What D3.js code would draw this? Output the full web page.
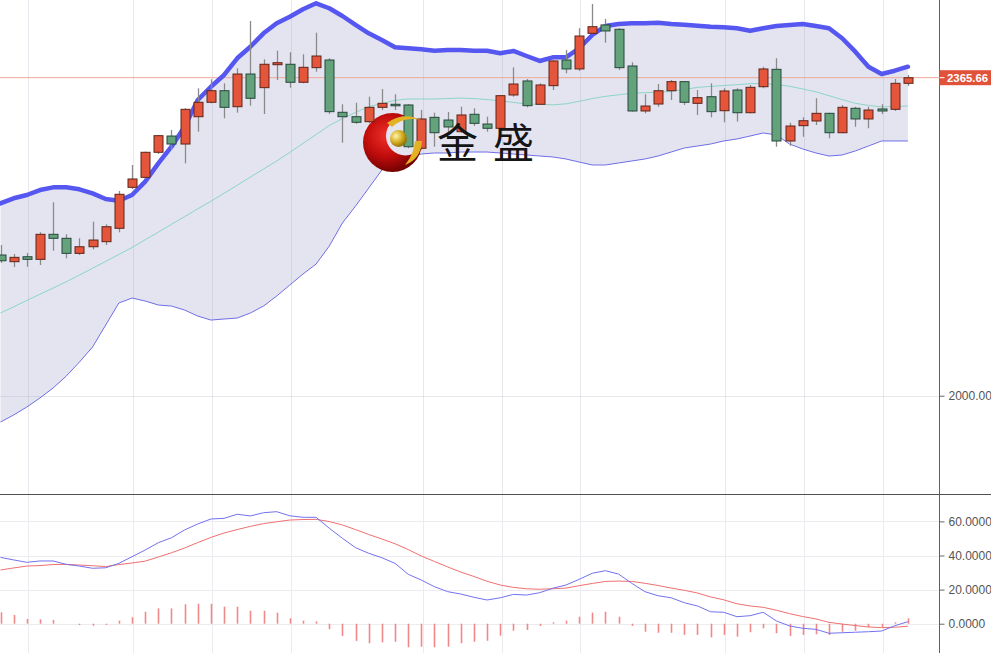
<!DOCTYPE html>
<html><head><meta charset="utf-8">
<script src="https://cdn.jsdelivr.net/npm/d3@7"></script>
<style>
html,body{margin:0;padding:0;background:#fff;overflow:hidden}
svg{display:block}
</style></head>
<body>
<svg id="chart" width="991" height="653"></svg>
<script>
// ---------------- DATA ----------------
const opens  = [2161.8,2154.1,2159.8,2156.8,2185.6,2181.0,2163.7,2171.3,2177.1,2192.5,2239.6,2251.1,2279.9,2298.6,2289.4,2320.8,2337.4,2350.7,2332.3,2369.9,2354.2,2380.6,2381.1,2360.4,2377.2,2386.0,2325.9,2320.8,2315.1,2331.6,2335.1,2334.3,2284.5,2320.1,2317.0,2303.6,2323.6,2312.4,2307.5,2345.8,2361.9,2335.1,2356.5,2386.0,2375.7,2416.7,2426.3,2421.3,2379.1,2327.4,2335.4,2350.7,2361.1,2336.2,2343.8,2327.7,2351.5,2325.4,2355.3,2375.3,2292.9,2310.5,2315.9,2324.7,2302.4,2330.5,2318.2,2329.7,2329.3,2359.2];
const highs  = [2173.3,2162.9,2164.1,2187.9,2222.4,2185.6,2181.0,2200.1,2197.1,2235.4,2265.3,2280.6,2299.8,2305.5,2330.5,2353.5,2363.8,2359.2,2376.5,2430.9,2386.8,2396.7,2394.9,2392.6,2417.4,2388.0,2335.1,2336.9,2343.8,2352.7,2346.6,2335.4,2328.5,2325.4,2326.2,2332.3,2330.5,2320.8,2345.8,2377.6,2364.2,2359.2,2386.0,2397.5,2422.5,2450.4,2433.2,2422.5,2383.4,2346.6,2358.4,2363.0,2361.9,2351.5,2359.2,2353.5,2353.5,2357.3,2378.3,2388.0,2313.9,2320.1,2342.0,2325.4,2334.3,2332.3,2332.3,2335.1,2364.2,2368.8];
const lows   = [2152.6,2148.0,2148.3,2150.3,2166.7,2158.0,2161.8,2168.3,2173.3,2187.9,2237.7,2249.2,2277.9,2282.5,2267.2,2303.6,2336.2,2319.0,2325.4,2333.5,2323.9,2363.0,2354.2,2359.2,2372.6,2323.9,2290.9,2312.4,2313.2,2328.5,2328.5,2284.5,2282.5,2286.3,2302.1,2302.1,2310.1,2303.6,2306.3,2343.8,2331.6,2334.3,2351.5,2370.7,2373.4,2415.6,2405.9,2374.5,2326.6,2324.7,2332.3,2340.0,2334.3,2322.8,2320.1,2314.4,2315.1,2324.7,2353.5,2286.3,2287.5,2297.8,2311.3,2296.0,2301.7,2309.3,2307.5,2323.9,2327.4,2356.1];
const closes = [2155.2,2159.1,2156.8,2185.6,2181.0,2163.7,2171.3,2179.0,2194.3,2231.6,2249.2,2279.9,2299.0,2289.4,2329.3,2337.4,2350.7,2331.6,2369.9,2342.0,2381.1,2382.9,2360.4,2377.6,2390.6,2326.6,2320.8,2314.4,2331.6,2336.2,2333.9,2286.3,2318.2,2302.4,2309.0,2322.8,2313.2,2307.5,2345.0,2358.4,2333.5,2357.3,2384.9,2375.7,2413.6,2424.3,2419.4,2377.2,2327.4,2333.1,2350.7,2361.1,2337.4,2342.7,2326.6,2350.4,2325.4,2354.6,2375.7,2292.9,2310.1,2316.2,2324.7,2302.4,2331.6,2318.2,2328.5,2327.4,2359.2,2365.66];

// Bollinger bands
const bollUpper = [2221.2,2227.0,2230.8,2236.5,2239.6,2239.6,2237.3,2232.7,2226.2,2224.2,2230.8,2246.1,2267.2,2286.3,2309.3,2340.0,2355.3,2368.8,2388.0,2401.3,2416.7,2428.2,2435.8,2444.3,2451.2,2445.5,2436.6,2426.3,2416.7,2409.0,2400.6,2399.5,2398.3,2396.7,2397.5,2397.5,2396.7,2396.7,2393.7,2396.4,2390.6,2384.9,2389.1,2389.1,2399.5,2414.8,2425.1,2427.4,2428.2,2428.2,2428.9,2427.4,2426.6,2425.4,2424.3,2423.6,2422.5,2419.7,2422.5,2425.1,2426.3,2427.4,2425.1,2422.5,2411.0,2395.6,2378.3,2369.9,2373.7,2378.3];
const bollMid   = [2095.1,2102.2,2109.6,2116.7,2123.8,2131.0,2138.7,2146.6,2154.4,2162.4,2170.4,2179.3,2188.1,2197.1,2205.9,2214.9,2223.6,2232.8,2242.0,2251.4,2260.6,2269.9,2279.8,2290.1,2300.3,2310.7,2318.6,2325.8,2332.4,2335.9,2339.6,2341.2,2341.2,2341.2,2341.7,2342.3,2341.6,2340.5,2339.0,2337.3,2335.4,2335.0,2334.5,2335.6,2338.5,2341.7,2344.2,2346.0,2347.9,2348.4,2348.9,2349.9,2352.2,2354.5,2355.7,2356.6,2357.6,2358.8,2359.0,2357.8,2355.8,2352.7,2349.4,2345.0,2340.5,2336.2,2333.8,2332.1,2332.5,2333.1];
const bollLower = [1969.8,1977.8,1987.0,1997.4,2008.9,2022.6,2038.7,2056.0,2081.3,2106.6,2112.3,2108.9,2104.3,2103.1,2098.5,2091.6,2087.0,2088.2,2089.3,2095.1,2103.1,2114.6,2127.3,2139.9,2151.4,2172.1,2198.6,2218.1,2238.8,2259.5,2268.7,2274.5,2277.9,2279.1,2279.1,2280.2,2280.2,2280.2,2279.1,2277.9,2276.8,2275.6,2274.5,2272.2,2268.7,2265.3,2265.3,2267.6,2269.9,2272.2,2275.6,2280.2,2284.8,2287.1,2289.4,2292.9,2295.2,2298.6,2302.1,2299.8,2289.4,2283.7,2279.1,2275.6,2276.8,2281.4,2287.1,2292.9,2292.9,2292.9];

// MACD
const macdLine   = [38.9,37.4,36.0,36.8,36.8,34.8,33.8,32.5,32.8,35.4,39.3,43.2,47.5,50.4,55.0,58.5,61.4,61.8,64.2,63.2,65.1,65.7,63.3,62.4,62.4,56.0,50.1,44.6,41.3,38.7,35.4,29.0,25.6,21.7,18.8,17.4,15.5,13.9,15.2,17.2,16.8,18.2,20.8,22.7,26.0,29.6,31.1,29.1,23.7,18.8,16.4,15.2,12.3,10.4,7.0,6.7,4.1,4.7,6.7,1.6,-1.3,-2.7,-3.3,-5.6,-5.3,-5.0,-4.7,-4.3,-1.2,1.2];
const signalLine = [31.5,32.7,33.8,34.1,34.7,34.8,34.4,34.0,33.5,34.7,35.6,36.7,39.1,41.6,44.4,47.6,50.6,53.2,55.2,57.1,58.7,59.8,60.8,61.1,61.2,59.9,57.9,55.2,52.3,49.7,46.9,43.5,39.7,36.5,33.3,30.3,27.7,24.9,22.7,21.3,20.5,20.2,20.5,20.9,22.3,23.6,24.8,25.0,24.8,23.7,22.4,20.9,19.6,18.0,15.7,14.0,11.7,10.4,9.6,7.9,5.9,4.2,2.8,0.8,-0.2,-1.1,-1.9,-2.3,-2.1,-1.5];
const histogram  = [6.7,5.1,2.8,2.6,2.2,0.0,-0.8,-1.2,-0.7,1.8,3.8,7.0,9.0,9.0,11.4,11.7,11.7,10.0,10.0,7.6,7.6,6.5,3.2,1.8,1.4,-3.2,-7.2,-10.1,-11.5,-10.9,-10.6,-13.8,-13.5,-13.8,-13.5,-11.5,-10.6,-10.0,-7.0,-4.1,-3.7,-1.3,0.8,1.8,4.1,6.5,7.0,4.1,-1.3,-4.7,-5.3,-5.3,-6.6,-6.6,-8.0,-6.6,-7.6,-5.0,-2.7,-5.6,-7.2,-6.6,-6.2,-6.6,-4.7,-4.1,-2.1,-2.1,0.9,3.2];

// Tick labels / grid positions
const priceTicks = [2000];
const macdTicks  = [0, 20, 40, 60];
const dateGridIdx = [2.1, 10.1, 16.1, 22.1, 32.1, 38.1, 44.1, 55.1, 61.1, 67.1];
const lastPrice = closes[closes.length - 1];
const brandText = ["金", "盛"];

// ---------------- LAYOUT ----------------
const W = 991, H = 653;
const axisX = 939.5, splitY = 494;
const svg = d3.select("#chart");
const idx = d3.range(closes.length);

const x  = d3.scaleLinear().domain([0, closes.length - 1]).range([0.5, 907.9]);
const yP = d3.scaleLinear().domain([1887.0, 2455.0]).range([splitY, 0]);
const yM = d3.scaleLinear().domain([-17.18, 76.07]).range([H, splitY]);

const defs = svg.append("defs");
defs.append("clipPath").attr("id","clipMain").append("rect").attr("x",0).attr("y",0).attr("width",axisX).attr("height",splitY);
defs.append("clipPath").attr("id","clipMacd").append("rect").attr("x",0).attr("y",splitY).attr("width",axisX).attr("height",H-splitY);

// ---------- main panel ----------
const main = svg.append("g").attr("clip-path","url(#clipMain)");

main.append("path").datum(idx)
  .attr("fill","#e4e4f0")
  .attr("d", d3.area().x(i=>x(i)).y0(i=>yP(bollLower[i])).y1(i=>yP(bollUpper[i])));

main.selectAll("line.vg").data(dateGridIdx).join("line")
  .attr("x1",d=>Math.round(x(d))+0.5).attr("x2",d=>Math.round(x(d))+0.5)
  .attr("y1",0).attr("y2",splitY)
  .attr("stroke","rgba(170,170,195,0.28)").attr("stroke-width",1);
main.selectAll("line.hg").data(priceTicks).join("line")
  .attr("x1",0).attr("x2",axisX)
  .attr("y1",d=>Math.round(yP(d))+0.5).attr("y2",d=>Math.round(yP(d))+0.5)
  .attr("stroke","rgba(170,170,195,0.28)");

main.append("path").datum(idx).attr("fill","none").attr("stroke","#8cd5c6").attr("stroke-width",1)
  .attr("d", d3.line().x(i=>x(i)).y(i=>yP(bollMid[i])));
main.append("path").datum(idx).attr("fill","none").attr("stroke","#6f6fe6").attr("stroke-width",1)
  .attr("d", d3.line().x(i=>x(i)).y(i=>yP(bollLower[i])));

main.append("line").attr("x1",0).attr("x2",axisX)
  .attr("y1",yP(lastPrice)).attr("y2",yP(lastPrice))
  .attr("stroke","#f0a898").attr("stroke-width",1);

main.append("path").datum(idx).attr("fill","none").attr("stroke","#5656f0").attr("stroke-width",4.5)
  .attr("stroke-linejoin","round").attr("stroke-linecap","round")
  .attr("d", d3.line().x(i=>x(i)).y(i=>yP(bollUpper[i])));

// ---------- logo (behind candles) ----------
const rg = defs.append("radialGradient").attr("id","redG").attr("cx","40%").attr("cy","38%").attr("r","65%");
rg.append("stop").attr("offset","0%").attr("stop-color","#f03028");
rg.append("stop").attr("offset","55%").attr("stop-color","#c00c0c");
rg.append("stop").attr("offset","100%").attr("stop-color","#6e0000");
const gg = defs.append("radialGradient").attr("id","goldG").attr("cx","35%").attr("cy","35%").attr("r","70%");
gg.append("stop").attr("offset","0%").attr("stop-color","#fff4a8");
gg.append("stop").attr("offset","55%").attr("stop-color","#d4ac22");
gg.append("stop").attr("offset","100%").attr("stop-color","#8a6a00");
defs.append("mask").attr("id","cres").call(m=>{
  m.append("rect").attr("x",350).attr("y",100).attr("width",100).attr("height",90).attr("fill","#fff");
  m.append("circle").attr("cx",405.5).attr("cy",136).attr("r",19.5).attr("fill","#000");
});
const logoBack = main.append("g");
logoBack.append("circle").attr("cx",392.5).attr("cy",142.5).attr("r",29.5).attr("fill","url(#redG)").attr("mask","url(#cres)");

// candles
const upFill = "#e4553b", downFill = "#64a27c";
const cg = main.append("g");
cg.selectAll("line.wick").data(idx).join("line")
  .attr("x1",i=>Math.round(x(i))+0.5).attr("x2",i=>Math.round(x(i))+0.5)
  .attr("y1",i=>yP(highs[i])).attr("y2",i=>yP(lows[i]))
  .attr("stroke","#8a8a8a").attr("stroke-width",1.3);
cg.selectAll("rect.body").data(idx).join("rect")
  .attr("x",i=>Math.round(x(i))-4)
  .attr("width",9)
  .attr("y",i=>yP(Math.max(opens[i],closes[i])))
  .attr("height",i=>Math.max(1.5, Math.abs(yP(opens[i])-yP(closes[i]))))
  .attr("fill",i=>closes[i]>=opens[i]?upFill:downFill)
  .attr("stroke",i=>closes[i]>=opens[i]?"#5e2418":"#24473a")
  .attr("stroke-width",1);

// logo front parts
const logo = svg.append("g");
logo.append("path").attr("d","M387,123 Q403,111 421,120 Q404,116 392,127 Z").attr("fill","#e2b224");
logo.append("path").attr("d","M422,141 Q421,159 405,165 Q414,154 415,141 Z").attr("fill","#e2b224");
logo.append("circle").attr("cx",398.5).attr("cy",138.5).attr("r",8.5).attr("fill","url(#goldG)");
logo.selectAll("text").data(brandText).join("text")
  .attr("x",(d,i)=>437 + i*56).attr("y",158)
  .attr("fill","#151515")
  .style("font-family","'Noto Sans CJK SC', sans-serif").style("font-size","41px")
  .text(d=>d);

// ---------- MACD panel ----------
const mg = svg.append("g").attr("clip-path","url(#clipMacd)");
mg.selectAll("line.vg").data(dateGridIdx).join("line")
  .attr("x1",d=>Math.round(x(d))+0.5).attr("x2",d=>Math.round(x(d))+0.5)
  .attr("y1",splitY).attr("y2",H)
  .attr("stroke","#ececf0");
mg.selectAll("line.hg").data(macdTicks).join("line")
  .attr("x1",0).attr("x2",axisX)
  .attr("y1",d=>Math.round(yM(d))+0.5).attr("y2",d=>Math.round(yM(d))+0.5)
  .attr("stroke","#ececf0");
mg.selectAll("line.hist").data(idx).join("line")
  .attr("x1",i=>Math.round(x(i))+0.5).attr("x2",i=>Math.round(x(i))+0.5)
  .attr("y1",yM(0)).attr("y2",i=>yM(histogram[i]))
  .attr("stroke","#f08888").attr("stroke-width",1.6);
mg.append("path").datum(idx).attr("fill","none").attr("stroke","#f07070").attr("stroke-width",1)
  .attr("d", d3.line().x(i=>x(i)).y(i=>yM(signalLine[i])));
mg.append("path").datum(idx).attr("fill","none").attr("stroke","#7272ee").attr("stroke-width",1)
  .attr("d", d3.line().x(i=>x(i)).y(i=>yM(macdLine[i])));

// ---------- axes ----------
const fontFam = "'Liberation Sans', Arial, sans-serif";
const axP = svg.append("g").attr("transform",`translate(${axisX},0)`)
  .call(d3.axisRight(yP).tickValues(priceTicks).tickFormat(d3.format(".2f")).tickSize(5).tickPadding(4));
const axM = svg.append("g").attr("transform",`translate(${axisX},0)`)
  .call(d3.axisRight(yM).tickValues(macdTicks).tickFormat(d3.format(".4f")).tickSize(5).tickPadding(4));
[axP, axM].forEach(a=>{
  a.select(".domain").remove();
  a.selectAll(".tick line").attr("stroke","#666");
  a.selectAll(".tick text").attr("fill","#555").style("font-family",fontFam).style("font-size","12px");
});

svg.append("line").attr("x1",axisX).attr("x2",axisX).attr("y1",0).attr("y2",H).attr("stroke","#606060").attr("stroke-width",1);
svg.append("line").attr("x1",0).attr("x2",W).attr("y1",splitY+0.5).attr("y2",splitY+0.5).attr("stroke","#505050").attr("stroke-width",1);

// current price label
const py = yP(lastPrice);
svg.append("rect").attr("x",axisX).attr("y",py-7.5).attr("width",W-axisX).attr("height",15).attr("fill","#e0533a");
svg.append("line").attr("x1",axisX).attr("x2",axisX+5).attr("y1",py).attr("y2",py).attr("stroke","#fff");
svg.append("text").attr("x",947).attr("y",py).attr("dy","0.36em")
  .attr("fill","#fff").style("font-family",fontFam).style("font-size","11.4px").style("font-weight","bold")
  .text(d3.format(".2f")(lastPrice));
</script>
</body></html>
